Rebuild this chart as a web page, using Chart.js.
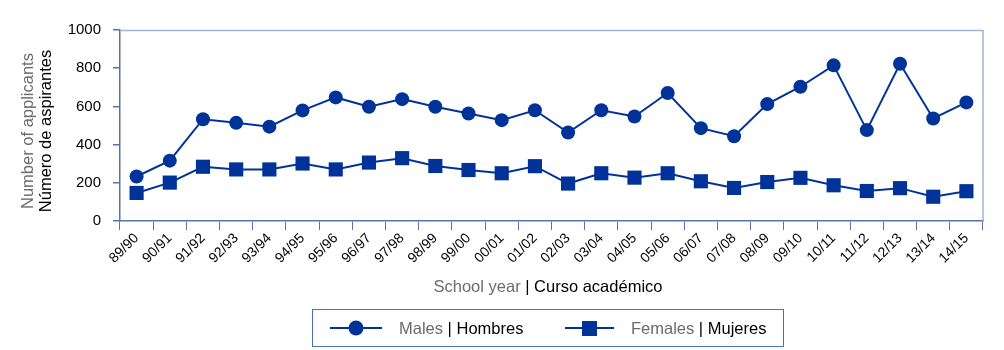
<!DOCTYPE html>
<html>
<head>
<meta charset="utf-8">
<script src="https://cdn.jsdelivr.net/npm/chart.js@4"></script>
<style>
  html,body{margin:0;padding:0;background:#fff;}
  #wrap{position:relative;width:1004px;height:350px;font-family:"Liberation Sans",Arial,sans-serif;}
  canvas{position:absolute;left:0;top:0;}
  .g{color:#6b6b6b;}
  .k{color:#000;}
  #ytitle{position:absolute;left:36px;top:131px;width:240px;transform:translate(-50%,-50%) rotate(-90deg);text-align:center;font-size:16.5px;line-height:18px;white-space:nowrap;}
  #xtitle{position:absolute;left:548px;top:286px;transform:translate(-50%,-50%);font-size:16.5px;white-space:nowrap;}
  #legend{position:absolute;left:312px;top:309px;width:470px;height:36px;border:1.5px solid #4c6dbd;box-sizing:content-box;font-size:16.5px;}
  .item{position:absolute;top:0;height:36px;display:flex;align-items:center;white-space:nowrap;}
  .item svg{margin-right:17px;}
</style>
</head>
<body>
<div id="wrap">
  <canvas id="c" width="1004" height="350"></canvas>
  <div id="ytitle"><div class="g">Number of applicants</div><div class="k">Número de aspirantes</div></div>
  <div id="xtitle"><span class="g">School year</span><span class="k"> | Curso académico</span></div>
  <div id="legend">
    <div class="item" style="left:17px">
      <svg width="52" height="16"><line x1="0" y1="8" x2="52" y2="8" stroke="#003399" stroke-width="2"/><circle cx="26" cy="8" r="7.5" fill="#003399"/></svg>
      <span class="g">Males</span><span class="k">&nbsp;| Hombres</span>
    </div>
    <div class="item" style="left:252px">
      <svg width="49" height="16"><line x1="0" y1="8" x2="49" y2="8" stroke="#003399" stroke-width="2"/><rect x="17" y="1" width="15" height="15" fill="#003399"/></svg>
      <span class="g">Females</span><span class="k">&nbsp;| Mujeres</span>
    </div>
  </div>
</div>
<script>
const categories = ["89/90","90/91","91/92","92/93","93/94","94/95","95/96","96/97","97/98","98/99","99/00","00/01","01/02","02/03","03/04","04/05","05/06","06/07","07/08","08/09","09/10","10/11","11/12","12/13","13/14","14/15"];
const males = [233,316,533,514,494,579,647,598,638,598,563,528,580,463,580,547,670,486,444,612,703,815,476,823,537,621];
const females = [147,201,284,270,270,301,270,306,329,288,267,250,287,196,250,227,250,208,173,204,226,187,157,172,127,156];
const yTicks = [0,200,400,600,800,1000];

const AXIS = '#5673b2';
const FRAME = '#a3b4d6';
const DATA = '#003399';

const framePlugin = {
  id: 'frame',
  afterDraw(chart) {
    const a = chart.chartArea, ctx = chart.ctx;
    ctx.save();
    ctx.strokeStyle = FRAME;
    ctx.lineWidth = 1.5;
    ctx.beginPath();
    ctx.moveTo(a.left, a.top + 0.5);
    ctx.lineTo(a.right, a.top + 0.5);
    ctx.lineTo(a.right, a.bottom);
    ctx.stroke();
    ctx.restore();
  }
};

new Chart(document.getElementById('c'), {
  type: 'line',
  data: {
    labels: categories,
    datasets: [
      { label: 'Males | Hombres', data: males, borderColor: DATA, backgroundColor: DATA, borderWidth: 2,
        pointStyle: 'circle', pointRadius: 7, pointBorderWidth: 0, tension: 0 },
      { label: 'Females | Mujeres', data: females, borderColor: DATA, backgroundColor: DATA, borderWidth: 2,
        pointStyle: 'rect', pointRadius: 10, pointBorderWidth: 0, tension: 0 }
    ]
  },
  options: {
    responsive: false,
    devicePixelRatio: 1,
    animation: false,
    layout: { padding: { top: 30, right: 21, left: 0, bottom: 0 } },
    plugins: { legend: { display: false }, tooltip: { enabled: false } },
    scales: {
      x: {
        type: 'category',
        offset: true,
        afterFit(s) { s.height = 129; },
        grid: { offset: true, drawOnChartArea: false, drawTicks: true, tickLength: 9, color: AXIS, lineWidth: 1 },
        border: { display: true, color: AXIS, width: 1.5 },
        ticks: { color: '#000', font: { family: '"Liberation Sans", Arial, sans-serif', size: 14 }, minRotation: 45, maxRotation: 45, autoSkip: false, padding: 0 }
      },
      y: {
        min: 0, max: 1000,
        afterFit(s) { s.width = 120; },
        afterBuildTicks(s) { s.ticks = yTicks.map(v => ({ value: v })); },
        grid: { drawOnChartArea: false, drawTicks: true, tickLength: 7, color: AXIS, lineWidth: 1.5 },
        border: { display: true, color: AXIS, width: 1.5 },
        ticks: { color: '#000', font: { family: '"Liberation Sans", Arial, sans-serif', size: 15 }, padding: 12,
                 callback: v => String(v) }
      }
    }
  },
  plugins: [framePlugin]
});
</script>
</body>
</html>
